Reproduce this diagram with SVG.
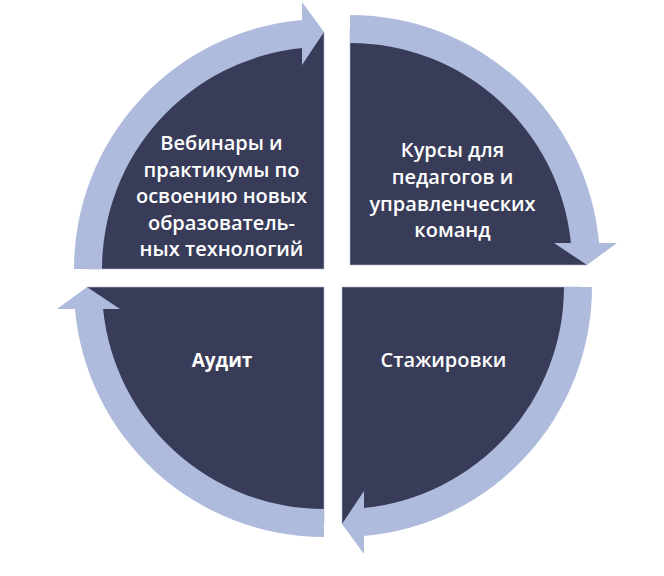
<svg xmlns="http://www.w3.org/2000/svg" xmlns:xlink="http://www.w3.org/1999/xlink" width="664" height="576" viewBox="0 0 664 576">
<style>
.pie{fill:#383C58;stroke:#AEBBDD;stroke-width:0.6}
.ring{fill:#AEBBDD}
.lbl{font-family:"Open Sans","DejaVu Sans",sans-serif;font-size:20px;font-weight:600;fill:#FFFFFF;text-anchor:middle}
.bold{font-weight:700;font-size:19px}
</style>
<defs>
<path id="pie" d="M0,0 L-237,0 A237,237 0 0 1 0,-237 Z"/>
<path id="ring" d="M-250,0 A250,250 0 0 1 -22,-249.03 L-22,-267 L0,-237 L-22,-204 L-22,-220.91 A222,222 0 0 0 -222,0 Z"/>
</defs>
<rect width="664" height="576" fill="#FFFFFF"/>
<g id="node-webinars">
<use xlink:href="#pie" href="#pie" class="pie" transform="translate(324,269)"/>
<text class="lbl" x="221.5" y="150">Вебинары и</text>
<text class="lbl" x="221.5" y="176.5">практикумы по</text>
<text class="lbl" x="221.5" y="203">освоению новых</text>
<text class="lbl" x="221.5" y="229.5">образователь-</text>
<text class="lbl" x="221.5" y="256">ных технологий</text>
</g>
<g id="node-courses">
<use xlink:href="#pie" href="#pie" class="pie" transform="translate(350,265) rotate(90)"/>
<text class="lbl" x="452.5" y="157">Курсы для</text>
<text class="lbl" x="452.5" y="184">педагогов и</text>
<text class="lbl" x="452.5" y="210.5">управленческих</text>
<text class="lbl" x="452.5" y="237">команд</text>
</g>
<g id="node-internships">
<use xlink:href="#pie" href="#pie" class="pie" transform="translate(342,287) rotate(180)"/>
<text class="lbl" x="443.5" y="367">Стажировки</text>
</g>
<g id="node-audit">
<use xlink:href="#pie" href="#pie" class="pie" transform="translate(324,287) rotate(270)"/>
<text class="lbl bold" x="222" y="367">Аудит</text>
</g>
<g id="connectors">
<use xlink:href="#ring" href="#ring" class="ring" transform="translate(324,269)"/>
<use xlink:href="#ring" href="#ring" class="ring" transform="translate(350,265) rotate(90)"/>
<use xlink:href="#ring" href="#ring" class="ring" transform="translate(342,287) rotate(180)"/>
<use xlink:href="#ring" href="#ring" class="ring" transform="translate(324,287) rotate(270)"/>
</g>
</svg>
